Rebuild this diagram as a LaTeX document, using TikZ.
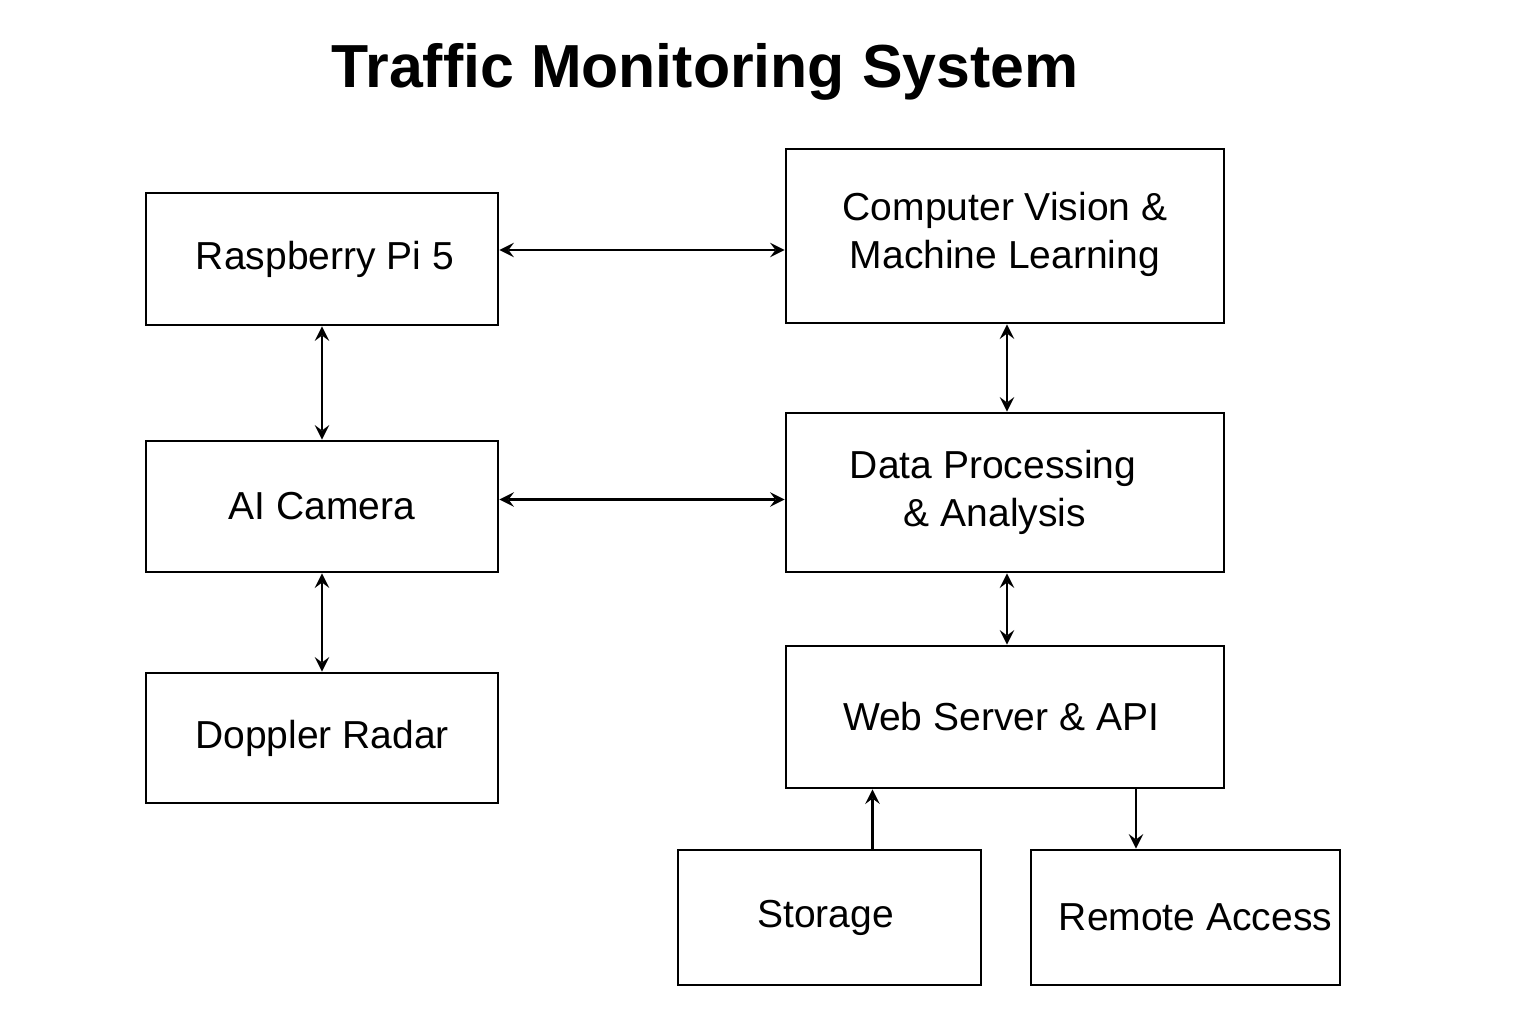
\documentclass[tikz,border=0pt]{standalone}
\usepackage{fontspec}
\setmainfont{Liberation Sans}
\usetikzlibrary{arrows,shapes,positioning,calc}
\tikzstyle{block} = [rectangle, draw=black, line width=0.8pt, align=center, font=\fontsize{11.1}{13.7}\selectfont, inner sep=0pt]
\tikzstyle{arrow} = [line width=0.8pt,<->,>=stealth]
\tikzstyle{oneway} = [line width=0.8pt,->,>=stealth]

\begin{document}
\begin{tikzpicture}[node distance=1.5cm]
                    \useasboundingbox (0,0) rectangle (15.36,-10.24);
                    \node (title) at (7.05,-0.72) {\fontsize{17.3}{20}\selectfont\bfseries Traffic Monitoring System};
                    \node (rpi) [block, minimum width=3.52cm, minimum height=1.32cm] at (3.22,-2.59) {\hspace{0.06cm}Raspberry Pi 5};
                    \node (cv) [block, minimum width=4.38cm, minimum height=1.74cm] at (10.05,-2.36) {Computer Vision \&\\Machine Learning\rule[-0.12cm]{0pt}{0pt}};
                    \node (cam) [block, minimum width=3.52cm, minimum height=1.31cm] at (3.22,-5.065) {AI Camera};
                    \node (dp) [block, minimum width=4.38cm, minimum height=1.59cm] at (10.05,-4.925) {Data Processing\hspace*{0.24cm}\\\& Analysis\hspace*{0.2cm}};
                    \node (radar) [block, minimum width=3.52cm, minimum height=1.30cm] at (3.22,-7.38) {Doppler Radar};
                    \node (ws) [block, minimum width=4.38cm, minimum height=1.42cm] at (10.05,-7.17) {Web Server \& API\hspace*{0.08cm}};
                    \node (storage) [block, minimum width=3.03cm, minimum height=1.35cm] at (8.295,-9.175) {Storage\hspace*{0.08cm}};
                    \node (remote) [block, minimum width=3.09cm, minimum height=1.35cm] at (11.855,-9.175) {\hspace{0.2cm}Remote Access};
                    \draw [arrow] ([yshift=0.09cm]rpi.east) -- ([yshift=0.09cm]rpi.east -| cv.west);
                    \draw [arrow] (rpi) -- (cam);
                    \draw [arrow] ([yshift=0.07cm]cam.east) -- ([yshift=0.07cm]cam.east -| dp.west);
                    \draw [arrow] (cam) -- (radar);
                    \draw [arrow] ([xshift=0.02cm]cv.south) -- ([xshift=0.02cm]dp.north);
                    \draw [arrow] ([xshift=0.02cm]dp.south) -- ([xshift=0.02cm]ws.north);
                    \draw [oneway] ([xshift=0.43cm]storage.north) -- ([xshift=0.43cm]storage.north |- ws.south);
                    \draw [oneway] ([xshift=1.31cm]ws.south) -- ([xshift=1.31cm]ws.south |- remote.north);
                \end{tikzpicture}
\end{document}
